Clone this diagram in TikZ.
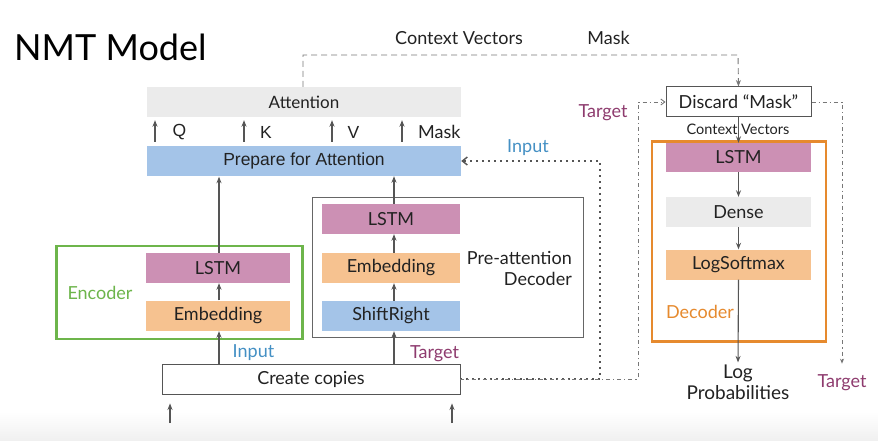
\documentclass[tikz,border=0pt]{standalone}
\usepackage{fontspec}
\setmainfont{Lato}
\newfontfamily\arialfont{Liberation Sans}
\usetikzlibrary{arrows.meta}

\definecolor{boxgray}{HTML}{EBEBEB}
\definecolor{boxblue}{HTML}{A4C4E8}
\definecolor{boxpink}{HTML}{CC90B4}
\definecolor{boxorange}{HTML}{F6C290}
\definecolor{encgreen}{HTML}{6DB54B}
\definecolor{decorange}{HTML}{E68A2E}
\definecolor{tgtpurple}{HTML}{8E3B6E}
\definecolor{inblue}{HTML}{4490C4}
\definecolor{linegray}{HTML}{555555}
\definecolor{inkgray}{HTML}{222222}

\newcommand\lblfont{\fontsize{18}{21}\selectfont}
\newcommand\smallfont{\fontsize{14.5}{17}\selectfont}

\begin{document}
\begin{tikzpicture}[x=1pt,y=-1pt,
  layer/.style={minimum width=#1, minimum height=30pt, inner sep=0pt,
    font=\lblfont, text=inkgray},
  frame/.style={minimum width=#1, inner sep=0pt},
  txt/.style={font=\lblfont, text=inkgray, inner sep=0pt},
  arr/.style={draw=linegray, line width=1.1pt, -{Stealth[length=6.5pt,width=5pt]}},
  dashline/.style={draw=linegray!80, line width=0.9pt, dash pattern=on 6pt off 4pt,
    -{Stealth[length=6.5pt,width=5pt]}},
  dotline/.style={draw=linegray, line width=1.4pt, dash pattern=on 1.4pt off 4.6pt,
    -{Straight Barb[length=5pt,width=8pt]}},
  dashdot/.style={draw=linegray!80, line width=0.9pt,
    dash pattern=on 4pt off 3pt on 1.2pt off 3pt,
    -{Straight Barb[length=4pt,width=6pt]}}
]
% canvas
\fill[white] (0,0) rectangle (878,441);
\shade[top color=white, bottom color=black!6] (0,412) rectangle (878,441);
\useasboundingbox (0,0) rectangle (878,441);

% title
\node[anchor=base west, inner sep=0pt, font=\fontsize{36}{40}\selectfont, text=black]
  (title) at (14,61) {NMT Model};

% frames
\node[frame=246pt, minimum height=93pt, draw=encgreen, line width=2.2pt]
  (encframe) at (179.5,292.5) {};
\node[frame=271pt, minimum height=140pt, draw=linegray!90, line width=1pt]
  (paframe) at (447.5,267) {};
\node[frame=174pt, minimum height=200pt, draw=decorange, line width=2.2pt]
  (decframe) at (739,241.5) {};

% attention stack
\node[layer=314pt, fill=boxgray, font=\fontsize{17}{20}\selectfont] (att) at (304,102) {Attention};
\node[layer=314pt, fill=boxblue, font=\arialfont\fontsize{17.5}{20}\selectfont]
  (prep) at (304,161) {Prepare for Attention};

% encoder
\node[layer=144pt, fill=boxpink] (elstm) at (218,268) {LSTM};
\node[layer=144pt, fill=boxorange] (eemb) at (218,315.5) {Embedding};
\node[txt, text=encgreen] (enclbl) at (100,293) {Encoder};

% pre-attention decoder
\node[layer=138pt, fill=boxpink] (plstm) at (391,219) {LSTM};
\node[layer=138pt, fill=boxorange] (pemb) at (391,268) {Embedding};
\node[layer=138pt, fill=boxblue] (pshift) at (391,316) {ShiftRight};
\node[txt, anchor=east, align=right] (palbl) at (572,268) {Pre-attention\\Decoder};

% create copies
\node[layer=298pt, draw=linegray, line width=0.9pt, fill=white] (cc) at (311,379) {Create copies};

% decoder
\node[layer=145pt, minimum height=30pt, draw=linegray, line width=1pt, fill=white]
  (discard) at (738.5,102) {Discard \textquotedblleft Mask\textquotedblright};
\node[txt, font=\smallfont] (ctxsmall) at (738,129) {Context Vectors};
\node[layer=145pt, minimum height=29pt, fill=boxpink] (dlstm) at (738.5,157.5) {LSTM};
\node[layer=145pt, fill=boxgray] (dense) at (738.5,212) {Dense};
\node[layer=145pt, fill=boxorange] (lsm) at (738.5,264.5) {LogSoftmax};
\node[txt, text=decorange] (declbl) at (700,312) {Decoder};
\node[txt, align=center, font=\fontsize{19}{21}\selectfont] (logp) at (738,382) {Log\\Probabilities};

% labels
\node[txt, font=\arialfont\fontsize{17.5}{20}\selectfont] (lq) at (179.5,132) {Q};
\node[txt, font=\arialfont\fontsize{17.5}{20}\selectfont] (lk) at (266,132) {K};
\node[txt, font=\arialfont\fontsize{17.5}{20}\selectfont] (lv) at (353.5,132) {V};
\node[txt, anchor=west] (lmask) at (418,132) {Mask};
\node[txt] (lctx) at (459,38) {Context Vectors};
\node[txt] (lmask2) at (608.5,38) {Mask};
\node[txt, text=inblue] (lin1) at (253.5,353) {Input};
\node[txt, text=inblue] (lin2) at (528,148) {Input};
\node[txt, text=tgtpurple] (ltg1) at (434.5,354) {Target};
\node[txt, text=tgtpurple] (ltg2) at (603,113) {Target};
\node[txt, text=tgtpurple] (ltg3) at (842,383) {Target};

% route points
\coordinate (src1) at (170,423);
\coordinate (src2) at (452,423);
\coordinate (ctxtop) at (303,55);
\coordinate (ctxright) at (738,55);
\coordinate (dotcorner) at (600,379);
\coordinate (dotup) at (600,161);
\coordinate (ddcorner) at (638,379);
\coordinate (ddup) at (638,102);
\coordinate (tgright) at (842,102);

% Q, K, V, Mask
\foreach \xx in {155,244,332,402}
  \draw[arr, shorten <=4pt, shorten >=3pt] (prep.north -| \xx,0) -- (att.south -| \xx,0);

% encoder path
\draw[arr, shorten >=0.5pt] (cc.north -| 219,0) -- (eemb.south -| 219,0);
\draw[arr] (eemb.north -| 219,0) -- (elstm.south -| 219,0);
\draw[arr, shorten >=0.5pt] (elstm.north -| 219,0) -- (prep.south -| 219,0);

% pre-attention decoder path
\draw[arr] (cc.north -| 394,0) -- (pshift.south -| 394,0);
\draw[arr] (pshift.north -| 394,0) -- (pemb.south -| 394,0);
\draw[arr] (pemb.north -| 394,0) -- (plstm.south -| 394,0);
\draw[arr] (plstm.north -| 394,0) -- (prep.south -| 394,0);

% inputs below create copies
\draw[arr, shorten >=9pt] (src1) -- (cc.south -| src1);
\draw[arr, shorten >=9pt] (src2) -- (cc.south -| src2);

% context vectors and mask to discard
\draw[dashline] (att.north -| ctxtop) -- (ctxtop) -- (ctxright) -- (discard.north);

% copies routed to prepare-for-attention and to discard
\draw[dotline] (cc.east) -- (dotcorner) -- (dotup) -- (prep.east);
\draw[dashdot] (cc.east) -- (ddcorner) -- (ddup) -- (discard.west);
\draw[dashdot, -{Stealth[length=5pt,width=4pt]}, shorten >=11pt] (discard.east) -- (tgright) -- (ltg3.north -| tgright);

% decoder path
\draw[arr] (discard.south) -- (dlstm.north);
\draw[arr] (dlstm.south) -- (dense.north);
\draw[arr] (dense.south) -- (lsm.north);
\draw[arr, shorten >=2pt] (lsm.south) -- (logp.north);
\end{tikzpicture}
\end{document}
